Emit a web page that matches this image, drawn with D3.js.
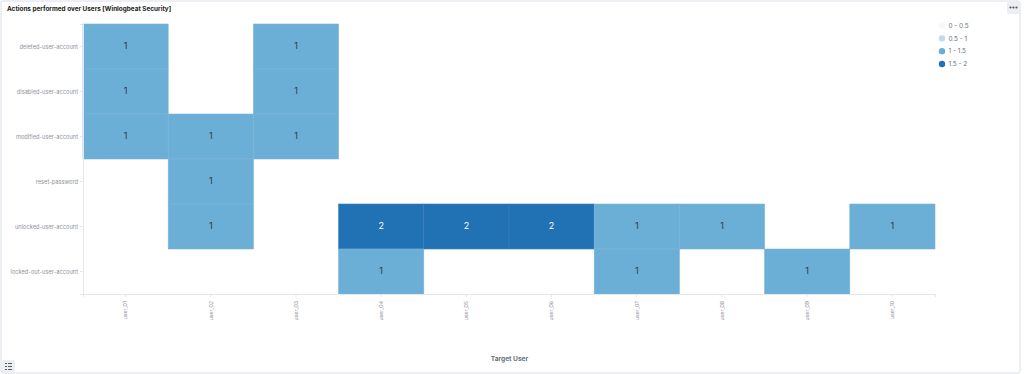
<!DOCTYPE html>
<html>
<head>
<meta charset="utf-8">
<script src="https://cdn.jsdelivr.net/npm/d3@7"></script>
<style>
  html, body { margin: 0; padding: 0; background: #fff; }
  svg { display: block; font-family: Inter, "Open Sans", sans-serif; }
</style>
</head>
<body>
<div id="chart"></div>
<script>
const users = ['user_01', 'user_02', 'user_03', 'user_04', 'user_05', 'user_06', 'user_07', 'user_08', 'user_09', 'user_10'];
const actions = ['deleted-user-account', 'disabled-user-account', 'modified-user-account', 'reset-password', 'unlocked-user-account', 'locked-out-user-account'];

// one list per action, same order as users, null = no cell
const deletedCounts = [1, null, 1, null, null, null, null, null, null, null];
const disabledCounts = [1, null, 1, null, null, null, null, null, null, null];
const modifiedCounts = [1, 1, 1, null, null, null, null, null, null, null];
const resetCounts = [null, 1, null, null, null, null, null, null, null, null];
const unlockedCounts = [null, 1, null, 2, 2, 2, 1, 1, null, 1];
const lockedOutCounts = [null, null, null, 1, null, null, 1, null, 1, null];
const counts = [deletedCounts, disabledCounts, modifiedCounts, resetCounts, unlockedCounts, lockedOutCounts];

const legendLabels = ['0 - 0.5', '0.5 - 1', '1 - 1.5', '1.5 - 2'];
const legendColors = ['#f2f8fd', '#c3d9ee', '#6baed6', '#2171b5'];

const width = 1024;
const height = 374;
const margin = { top: 24, right: 89, bottom: 80, left: 83 };

const svg = d3.select('#chart')
  .append('svg')
  .attr('width', width)
  .attr('height', height);

// panel frame
svg.append('rect')
  .attr('x', 1)
  .attr('y', 1)
  .attr('width', 1019)
  .attr('height', 372)
  .attr('rx', 2)
  .attr('fill', '#fff')
  .attr('stroke', '#d9dee8')
  .attr('stroke-width', 1);

svg.append('text')
  .attr('x', 7)
  .attr('y', 10.5)
  .attr('font-size', 6.4)
  .attr('font-weight', 700)
  .attr('fill', '#1a1c21')
  .text('Actions performed over Users [Winlogbeat Security]');

const x = d3.scaleBand()
  .domain(users)
  .range([margin.left, width - margin.right]);

const y = d3.scaleBand()
  .domain(actions)
  .range([margin.top, height - margin.bottom]);

const color = d3.scaleThreshold()
  .domain([0.5, 1, 1.5])
  .range(legendColors);

const cells = [];
counts.forEach((row, i) => {
  row.forEach((value, j) => {
    if (value !== null) cells.push({ action: actions[i], user: users[j], value });
  });
});

const plot = svg.append('g');

plot.selectAll('rect')
  .data(cells)
  .enter()
  .append('rect')
  .attr('x', d => x(d.user))
  .attr('y', d => y(d.action))
  .attr('width', x.bandwidth())
  .attr('height', y.bandwidth())
  .attr('fill', d => color(d.value))
  .attr('stroke', d => (d.value > 1.5 ? '#3a7fb9' : '#7fb5d6'))
  .attr('stroke-width', 0.6);

plot.selectAll('text')
  .data(cells)
  .enter()
  .append('text')
  .attr('x', d => x(d.user) + x.bandwidth() / 2)
  .attr('y', d => y(d.action) + y.bandwidth() / 2)
  .attr('dy', '0.3em')
  .attr('text-anchor', 'middle')
  .attr('font-size', 9)
  .attr('fill', d => (d.value > 1.5 ? '#fff' : '#343741'))
  .text(d => d.value);

// Axis
const yAxis = svg.append('g')
  .attr('transform', `translate(${margin.left}, 0)`)
  .call(d3.axisLeft(y).tickSize(3).tickPadding(2));

const xAxis = svg.append('g')
  .attr('transform', `translate(0, ${height - margin.bottom})`)
  .call(d3.axisBottom(x).tickSize(3));

[xAxis, yAxis].forEach((axis) => {
  axis.selectAll('path, line').attr('stroke', '#e4e7ee');
  axis.selectAll('text')
    .attr('font-family', 'Inter, "Open Sans", sans-serif')
    .attr('fill', '#8f939c');
});

yAxis.selectAll('text')
  .attr('font-size', 5.7)
  .attr('dy', '0.5em');

xAxis.selectAll('text')
  .attr('font-size', 5.2)
  .attr('text-anchor', 'end')
  .attr('transform', 'translate(0, 7) rotate(-90)')
  .attr('x', 0)
  .attr('y', 0)
  .attr('dy', '0.35em');

svg.append('text')
  .attr('x', (margin.left + width - margin.right) / 2 + 0.5)
  .attr('y', 360.5)
  .attr('text-anchor', 'middle')
  .attr('font-size', 6.6)
  .attr('font-weight', 700)
  .attr('fill', '#69707d')
  .text('Target User');

// Legend
const legend = svg.append('g');
const legendY = d3.scalePoint()
  .domain(legendLabels)
  .range([25.5, 64]);

legend.selectAll('circle')
  .data(legendLabels)
  .enter()
  .append('circle')
  .attr('cx', 942)
  .attr('cy', d => legendY(d))
  .attr('r', 3.2)
  .attr('fill', (d, i) => legendColors[i]);

legend.selectAll('text')
  .data(legendLabels)
  .enter()
  .append('text')
  .attr('x', 948.5)
  .attr('y', d => legendY(d))
  .attr('dy', '0.35em')
  .attr('font-size', 6.4)
  .attr('fill', '#69707d')
  .text(d => d);

// options button, top right
const optionsBtn = svg.append('g');
optionsBtn.append('rect')
  .attr('x', 1007)
  .attr('y', 1)
  .attr('width', 13)
  .attr('height', 13)
  .attr('rx', 2)
  .attr('fill', '#eceef2');
optionsBtn.selectAll('circle')
  .data([1010.5, 1013.5, 1016.5])
  .enter()
  .append('circle')
  .attr('cx', d => d)
  .attr('cy', 7.5)
  .attr('r', 1.1)
  .attr('fill', '#535966');

// legend toggle, bottom left
const toggleBtn = svg.append('g');
toggleBtn.append('rect')
  .attr('x', 2)
  .attr('y', 360)
  .attr('width', 13)
  .attr('height', 13)
  .attr('rx', 2)
  .attr('fill', '#eceef2');
toggleBtn.selectAll('line')
  .data([363.5, 366.5, 369.5])
  .enter()
  .append('line')
  .attr('x1', 8)
  .attr('x2', 12)
  .attr('y1', d => d)
  .attr('y2', d => d)
  .attr('stroke', '#535966')
  .attr('stroke-width', 1);
toggleBtn.selectAll('rect.dot')
  .data([363.5, 366.5, 369.5])
  .enter()
  .append('rect')
  .attr('class', 'dot')
  .attr('x', 5)
  .attr('y', d => d - 0.5)
  .attr('width', 2)
  .attr('height', 1)
  .attr('fill', '#535966');
</script>
</body>
</html>
